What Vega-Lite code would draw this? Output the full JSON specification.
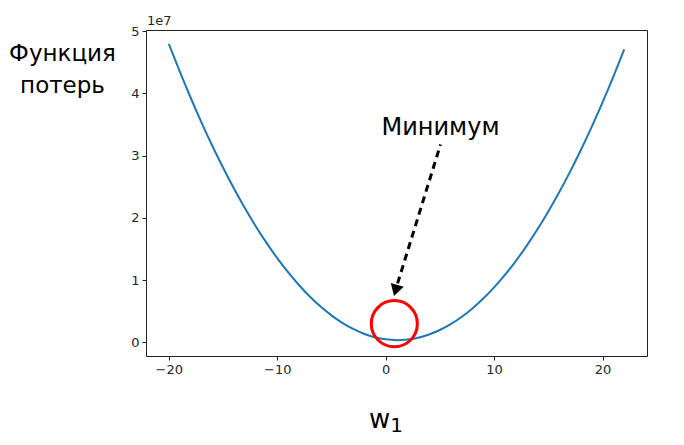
{
  "$schema": "https://vega.github.io/schema/vega-lite/v6.json",
  "width": 501,
  "height": 326,
  "autosize": {"type": "none"},
  "padding": {"left": 146, "top": 30, "right": 37, "bottom": 89},
  "background": "white",
  "config": {
    "view": {"stroke": "#222", "strokeWidth": 1},
    "axis": {
      "domain": false, "grid": false, "tickColor": "#222", "tickSize": 4,
      "labelFont": "DejaVu Sans", "labelFontSize": 13, "labelColor": "#262626", "labelPadding": 3,
      "titleFont": "DejaVu Sans", "titleFontWeight": "normal", "titleColor": "black"
    }
  },
  "datasets": {
    "curve": [
      {"w": -20, "loss": 4.799}, {"w": -19, "loss": 4.358}, {"w": -18, "loss": 3.939}, {"w": -17, "loss": 3.540},
      {"w": -16, "loss": 3.164}, {"w": -15, "loss": 2.809}, {"w": -14, "loss": 2.475}, {"w": -13, "loss": 2.162},
      {"w": -12, "loss": 1.871}, {"w": -11, "loss": 1.602}, {"w": -10, "loss": 1.353}, {"w": -9, "loss": 1.127},
      {"w": -8, "loss": 0.921}, {"w": -7, "loss": 0.737}, {"w": -6, "loss": 0.574}, {"w": -5, "loss": 0.433},
      {"w": -4, "loss": 0.313}, {"w": -3, "loss": 0.215}, {"w": -2, "loss": 0.138}, {"w": -1, "loss": 0.082},
      {"w": 0, "loss": 0.048}, {"w": 1, "loss": 0.035}, {"w": 2, "loss": 0.044}, {"w": 3, "loss": 0.074},
      {"w": 4, "loss": 0.125}, {"w": 5, "loss": 0.198}, {"w": 6, "loss": 0.292}, {"w": 7, "loss": 0.407},
      {"w": 8, "loss": 0.544}, {"w": 9, "loss": 0.703}, {"w": 10, "loss": 0.883}, {"w": 11, "loss": 1.084},
      {"w": 12, "loss": 1.306}, {"w": 13, "loss": 1.550}, {"w": 14, "loss": 1.816}, {"w": 15, "loss": 2.102},
      {"w": 16, "loss": 2.411}, {"w": 17, "loss": 2.740}, {"w": 18, "loss": 3.091}, {"w": 19, "loss": 3.463},
      {"w": 20, "loss": 3.857}, {"w": 21, "loss": 4.272}, {"w": 22, "loss": 4.709}
    ],
    "label": [{"w": 5.06, "loss": 3.34, "text": "Минимум"}],
    "arrow": [{"w": 5.06, "loss": 3.18}, {"w": 1.10, "loss": 0.947}],
    "head": [{"w": 0.92, "loss": 0.835}],
    "circle": [{"w": 0.80, "loss": 0.30}],
    "exp": [{"w": -22.1, "loss": 5.02, "text": "1e7"}],
    "sub": [{"w": 1.0, "loss": -1.442, "text": "1"}]
  },
  "layer": [
    {
      "data": {"name": "curve"},
      "mark": {"type": "line", "color": "#1f77b4", "strokeWidth": 2, "interpolate": "monotone"},
      "encoding": {
        "x": {"field": "w", "type": "quantitative",
          "scale": {"domain": [-22.1, 24.1], "nice": false, "zero": false},
          "axis": {"values": [-20, -10, 0, 10, 20], "title": "w", "titleFontSize": 26,
            "titleX": 233, "titleY": 71, "titleBaseline": "alphabetic", "titleAlign": "center"}},
        "y": {"field": "loss", "type": "quantitative",
          "scale": {"domain": [-0.22, 5.02], "nice": false, "zero": false},
          "axis": {"values": [0, 1, 2, 3, 4, 5], "format": "d", "title": ["Функция", "потерь"], "titleFontSize": 23,
            "titleAngle": 0, "titleX": -84, "titleY": 30, "titleAlign": "center",
            "titleBaseline": "alphabetic", "titleLineHeight": 32}}
      }
    },
    {
      "data": {"name": "arrow"},
      "mark": {"type": "line", "color": "black", "strokeWidth": 3, "strokeDash": [7, 5]},
      "encoding": {
        "x": {"field": "w", "type": "quantitative"},
        "y": {"field": "loss", "type": "quantitative"}
      }
    },
    {
      "data": {"name": "head"},
      "mark": {"type": "point", "shape": "triangle-down", "filled": true, "color": "black", "opacity": 1, "size": 180, "angle": 16},
      "encoding": {
        "x": {"field": "w", "type": "quantitative"},
        "y": {"field": "loss", "type": "quantitative"}
      }
    },
    {
      "data": {"name": "circle"},
      "mark": {"type": "point", "shape": "circle", "filled": false, "color": "#ff0000", "opacity": 1, "strokeWidth": 3, "size": 2124},
      "encoding": {
        "x": {"field": "w", "type": "quantitative"},
        "y": {"field": "loss", "type": "quantitative"}
      }
    },
    {
      "data": {"name": "label"},
      "mark": {"type": "text", "font": "DejaVu Sans", "fontSize": 24, "color": "black", "align": "center", "baseline": "alphabetic"},
      "encoding": {
        "x": {"field": "w", "type": "quantitative"},
        "y": {"field": "loss", "type": "quantitative"},
        "text": {"field": "text"}
      }
    },
    {
      "data": {"name": "sub"},
      "mark": {"type": "text", "font": "DejaVu Sans", "fontSize": 20, "color": "black", "align": "center", "baseline": "alphabetic"},
      "encoding": {
        "x": {"field": "w", "type": "quantitative"},
        "y": {"field": "loss", "type": "quantitative"},
        "text": {"field": "text"}
      }
    },
    {
      "data": {"name": "exp"},
      "mark": {"type": "text", "font": "DejaVu Sans", "fontSize": 13, "color": "#262626", "align": "left", "baseline": "alphabetic", "dy": -5, "dx": 1},
      "encoding": {
        "x": {"field": "w", "type": "quantitative"},
        "y": {"field": "loss", "type": "quantitative"},
        "text": {"field": "text"}
      }
    }
  ]
}
